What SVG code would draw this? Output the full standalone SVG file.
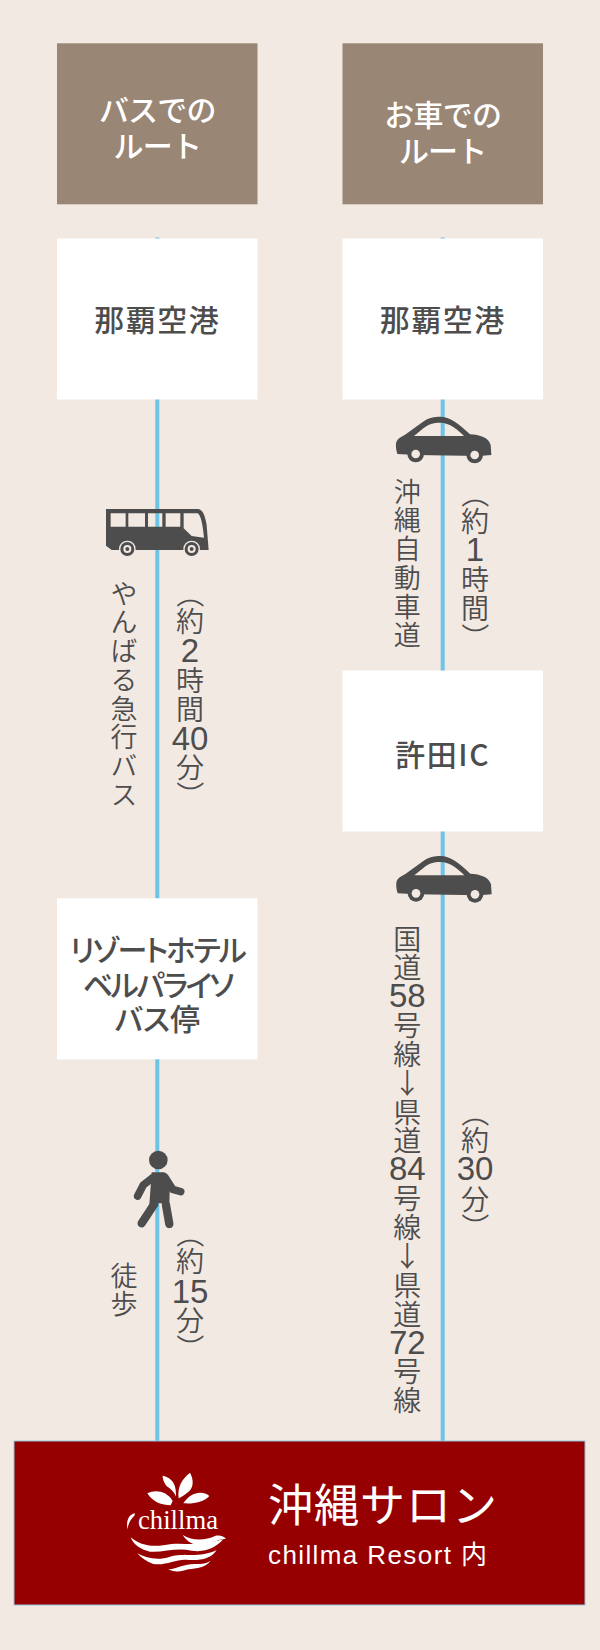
<svg xmlns="http://www.w3.org/2000/svg" width="600" height="1650" viewBox="0 0 600 1650">
<style>
text{font-family:"Noto Sans CJK JP","Noto Sans",sans-serif;fill:#4d4d4d}
.hd{font-size:30px;font-weight:500;fill:#fff;text-anchor:middle;letter-spacing:-.8px}
.nd{font-size:30px;font-weight:500;text-anchor:middle;font-feature-settings:"palt"}
.lb{font-size:28px;text-anchor:middle;font-weight:350}
.dg{font-size:33px;font-family:"Liberation Sans",sans-serif;font-weight:400}
.vt{font-size:27px;writing-mode:vertical-rl;letter-spacing:1.7px;font-weight:350}
.hr{fill:#998675}.wh{fill:#fff}
.ln{stroke:#6ec4e6;stroke-width:4;fill:none}
.ic{fill:#4d4d4d}
</style>
<defs>
<g id="car" transform="scale(.3333)">
<path class="ic" fill-rule="evenodd" d="M1,80C3,68 13,62 28,54L78,18C98,2 118,0 133,0C163,0 188,20 223,53C253,55 278,62 285,85L287,115L250,118L60,115L5,112C1,100 0,90 1,80ZM55,58L205,58C185,38 163,18 133,18C113,18 98,22 83,35Z"/>
<circle cx="60" cy="112" r="25" class="ic"/><circle cx="60" cy="112" r="13" fill="#f3e9e3"/>
<circle cx="237" cy="115" r="25" class="ic"/><circle cx="237" cy="115" r="13" fill="#f3e9e3"/>
</g>
</defs>
<rect width="600" height="1650" fill="#f3e9e3"/>
<g id="connectors">
<line class="ln" x1="157.3" y1="237.5" x2="157.3" y2="1441"/>
<line class="ln" x1="442.7" y1="237.5" x2="442.7" y2="1441"/>
</g>
<g id="head-bus"><rect class="hr" x="57" y="43.3" width="200.5" height="161"/>
<text class="hd" x="157.3" y="121">バスでの</text><text class="hd" x="157.3" y="157">ルート</text></g>
<g id="head-car"><rect class="hr" x="342.5" y="43.3" width="200.5" height="161"/>
<text class="hd" x="442.7" y="126">お車での</text><text class="hd" x="442.7" y="162">ルート</text></g>
<g id="node-naha-bus"><rect class="wh" x="57" y="238.5" width="200.5" height="161"/>
<text class="nd" style="letter-spacing:1.5px" x="157.3" y="331">那覇空港</text></g>
<g id="node-naha-car"><rect class="wh" x="342.5" y="238.5" width="200.5" height="161"/>
<text class="nd" style="letter-spacing:1.5px" x="442.7" y="331">那覇空港</text></g>
<g id="node-kyoda"><rect class="wh" x="342.5" y="670.5" width="200.5" height="161"/>
<text class="nd" style="letter-spacing:1.6px" x="442.7" y="766">許田IC</text></g>
<g id="node-stop"><rect class="wh" x="57" y="898.3" width="200.5" height="161"/>
<text class="nd" style="letter-spacing:-2px" x="157.3" y="961">リゾートホテル</text><text class="nd" style="letter-spacing:-2.5px" x="157.3" y="996">ベルパライソ</text><text class="nd" x="157.3" y="1030">バス停</text></g>
<g id="icon-bus" transform="translate(60,480) scale(.3333)">
<path class="ic" fill-rule="evenodd" d="M138,87L415,87C428,90 435,105 440,135L446,210L155,210L138,197ZM152,100V140H197V100ZM205,100V140H255V100ZM264,100V140H307V100ZM317,100V140H361V100ZM371,100V145L395,168L432,173C428,130 422,105 413,100Z"/>
<g fill="#f3e9e3"><circle cx="202" cy="207" r="25"/><circle cx="395" cy="207" r="25"/></g>
<g class="ic"><circle cx="202" cy="207" r="21"/><circle cx="395" cy="207" r="21"/></g>
<g fill="#f3e9e3"><circle cx="202" cy="207" r="12"/><circle cx="395" cy="207" r="12"/></g>
<g class="ic"><circle cx="202" cy="207" r="6"/><circle cx="395" cy="207" r="6"/></g>
</g>
<use id="icon-car-1" href="#car" x="0" y="0" transform="translate(395.7,416.7)"/>
<use id="icon-car-2" href="#car" x="0" y="0" transform="translate(396,856)"/>
<g id="icon-walk" transform="translate(90,1130) scale(.3333)">
<circle class="ic" cx="205" cy="90" r="28"/>
<path class="ic" d="M185,127L222,127Q232,130 240,150L238,225L203,218L178,225Z"/>
<g fill="none" stroke="#4d4d4d" stroke-linecap="round" stroke-linejoin="round">
<path stroke-width="23" d="M190,142L160,165L143,198M225,142L248,178L272,185"/>
<path stroke-width="25" d="M193,222L155,280M228,225L238,282"/>
</g>
</g>
<g id="label-bus">
<text class="vt" x="124" y="580">やんばる急行バス</text>
<text class="lb"><tspan x="193" y="580" rotate="90">（</tspan><tspan x="190" y="632">約</tspan><tspan x="190" y="661.5" class="dg">2</tspan><tspan x="190" y="691">時</tspan><tspan x="190" y="720">間</tspan><tspan x="190" y="750" class="dg">40</tspan><tspan x="190" y="778">分</tspan><tspan x="193" y="781" rotate="90">）</tspan></text>
</g>
<g id="label-car1">
<text class="vt" x="407.3" y="478">沖縄自動車道</text>
<text class="lb"><tspan x="478" y="480" rotate="90">（</tspan><tspan x="475" y="532">約</tspan><tspan x="475" y="561" class="dg">1</tspan><tspan x="475" y="590">時</tspan><tspan x="475" y="619">間</tspan><tspan x="478" y="623" rotate="90">）</tspan></text>
</g>
<g id="label-walk">
<text class="vt" x="124" y="1262">徒歩</text>
<text class="lb"><tspan x="193" y="1220" rotate="90">（</tspan><tspan x="190" y="1272">約</tspan><tspan x="190" y="1303" class="dg">15</tspan><tspan x="190" y="1331">分</tspan><tspan x="193" y="1334" rotate="90">）</tspan></text>
</g>
<g id="label-car2">
<text class="lb"><tspan x="407.3" y="949.5">国</tspan><tspan x="407.3" y="978.3">道</tspan><tspan x="407.3" y="1007" class="dg">58</tspan><tspan x="407.3" y="1036">号</tspan><tspan x="407.3" y="1065">線</tspan><tspan x="407.3" y="1093.7">↓</tspan><tspan x="407.3" y="1122.5">県</tspan><tspan x="407.3" y="1151">道</tspan><tspan x="407.3" y="1180" class="dg">84</tspan><tspan x="407.3" y="1209">号</tspan><tspan x="407.3" y="1238">線</tspan><tspan x="407.3" y="1267">↓</tspan><tspan x="407.3" y="1296">県</tspan><tspan x="407.3" y="1324.5">道</tspan><tspan x="407.3" y="1353.5" class="dg">72</tspan><tspan x="407.3" y="1382">号</tspan><tspan x="407.3" y="1411">線</tspan></text>
<text class="lb"><tspan x="478" y="1099" rotate="90">（</tspan><tspan x="475" y="1151">約</tspan><tspan x="475" y="1180" class="dg">30</tspan><tspan x="475" y="1210">分</tspan><tspan x="478" y="1213" rotate="90">）</tspan></text>
</g>
<g id="node-salon">
<rect x="14" y="1441" width="571" height="164" fill="#960000" stroke="#8cc8e0" stroke-width="1"/>
<g id="logo" transform="translate(100,1430) scale(.3333)" fill="#fff">
<path d="M188,137C210,142 230,155 228,200C222,185 212,178 205,172C195,165 188,150 188,137Z"/>
<path d="M270,128C282,150 282,175 262,188C252,196 245,200 236,205C232,170 245,148 270,128Z"/>
<path d="M142,190C165,178 200,182 218,213L212,226C185,225 160,218 142,190Z"/>
<path d="M328,198C305,178 268,190 250,220C280,222 310,218 328,198Z"/>
<path d="M105,250C88,252 78,270 82,298C85,280 92,268 104,256Z"/>
<path d="M248,315C280,335 320,330 345,318C360,314 372,320 378,326C350,328 335,340 315,348C290,350 262,338 248,315Z"/>
<path d="M92,322C120,345 150,352 195,345C240,335 285,350 340,335L370,328C345,355 315,368 275,362C230,352 190,368 150,365C125,360 100,345 92,322Z"/>
<path d="M112,370C140,385 175,392 210,380C250,368 300,385 350,360C335,385 305,392 265,390C230,385 200,408 160,402C140,395 125,385 112,370Z"/>
<path d="M205,418C235,415 255,400 290,402C305,402 320,400 332,392C318,412 290,415 265,418C245,425 225,428 205,418Z"/>
</g>
<text x="138" y="1529" font-size="26.7" style="font-family:'Liberation Serif',serif;fill:#fff">chillma</text>
<text x="268" y="1522" font-size="45" letter-spacing="1" style="font-family:'Liberation Serif','Noto Sans CJK JP',serif;fill:#fff">沖縄サロン</text>
<text x="268" y="1564" font-size="26" letter-spacing="1.4" style="font-family:'Liberation Sans','Noto Sans CJK JP',sans-serif;fill:#fff">chillma Resort 内</text>
</g>
</svg>
